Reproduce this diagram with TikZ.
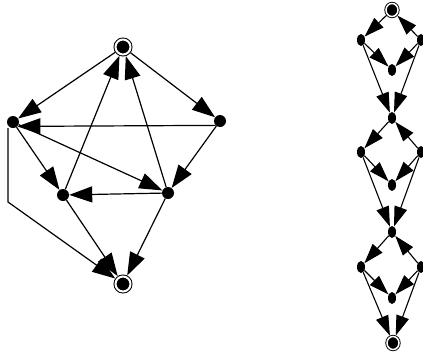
\documentclass[tikz,border=0pt]{standalone}
\usetikzlibrary{arrows.meta,shapes.geometric}

\begin{document}
\begin{tikzpicture}[
  x=1pt, y=-1pt,
  dot/.style={circle, fill=black, inner sep=0pt, minimum size=12pt},
  fin/.style={circle, fill=black, draw=black, double=white, double distance=2pt,
              line width=1pt, inner sep=0pt, minimum size=15pt, outer sep=2pt},
  sdot/.style={ellipse, fill=black, inner sep=0pt, minimum width=8pt, minimum height=12pt},
  sfin/.style={ellipse, fill=black, draw=black, double=white, double distance=1.5pt,
               line width=0.9pt, inner sep=0pt, minimum width=12pt, minimum height=13pt, outer sep=1.5pt},
  arr/.style={-{Triangle[length=23pt, width=16pt]}, line width=1.2pt},
  sarr/.style={-{Triangle[length=20pt, width=13pt]}, line width=1.1pt}]

\useasboundingbox[fill=white] (0,0) rectangle (423,359);

% left graph
\node[fin] (top) at (123,47) {};
\node[dot] (lft) at (13,122) {};
\node[dot] (rgt) at (220,121) {};
\node[dot] (ml) at (63,195) {};
\node[dot] (mr) at (168,193) {};
\node[fin] (bot) at (123,284) {};
\coordinate (kink) at (8,202);

\draw[arr] (top) -- (lft);
\draw[arr] (top) -- (rgt);
\draw[arr] (rgt.south west) -- (lft.south east);
\draw[arr] (rgt) -- (mr);
\draw[arr] (lft) -- (ml);
\draw[arr] (lft) -- (mr);
\draw[arr] (ml) -- (top);
\draw[arr] (mr) -- (top);
\draw[arr] (mr) -- (ml);
\draw[arr] (ml) -- (bot);
\draw[arr] (mr) -- (bot);
\draw[arr] (lft.south -| kink) -- (kink) -- (bot);

% right chain
\node[sfin] (t1) at (392,10) {};
\node[sdot] (a1) at (361,40) {};
\node[sdot] (b1) at (421,40) {};
\node[sdot] (c1) at (392,70) {};
\node[sdot] (t2) at (392,118) {};
\node[sdot] (a2) at (361,152) {};
\node[sdot] (b2) at (421,152) {};
\node[sdot] (c2) at (392,185) {};
\node[sdot] (t3) at (392,232) {};
\node[sdot] (a3) at (361,267) {};
\node[sdot] (b3) at (421,267) {};
\node[sdot] (c3) at (392,298) {};
\node[sfin] (t4) at (393,343) {};

\draw[sarr] (t1) -- (a1);
\draw[sarr] (b1) -- (t1);
\draw[sarr] (a1) -- (c1);
\draw[sarr] (b1) -- (c1);
\draw[sarr] (a1) -- (t2);
\draw[sarr] (b1) -- (t2);

\draw[sarr] (t2) -- (a2);
\draw[sarr] (b2) -- (t2);
\draw[sarr] (a2) -- (c2);
\draw[sarr] (b2) -- (c2);
\draw[sarr] (a2) -- (t3);
\draw[sarr] (b2) -- (t3);

\draw[sarr] (t3) -- (a3);
\draw[sarr] (b3) -- (t3);
\draw[sarr] (a3) -- (c3);
\draw[sarr] (b3) -- (c3);
\draw[sarr] (a3) -- (t4);
\draw[sarr] (b3) -- (t4);
\end{tikzpicture}
\end{document}
